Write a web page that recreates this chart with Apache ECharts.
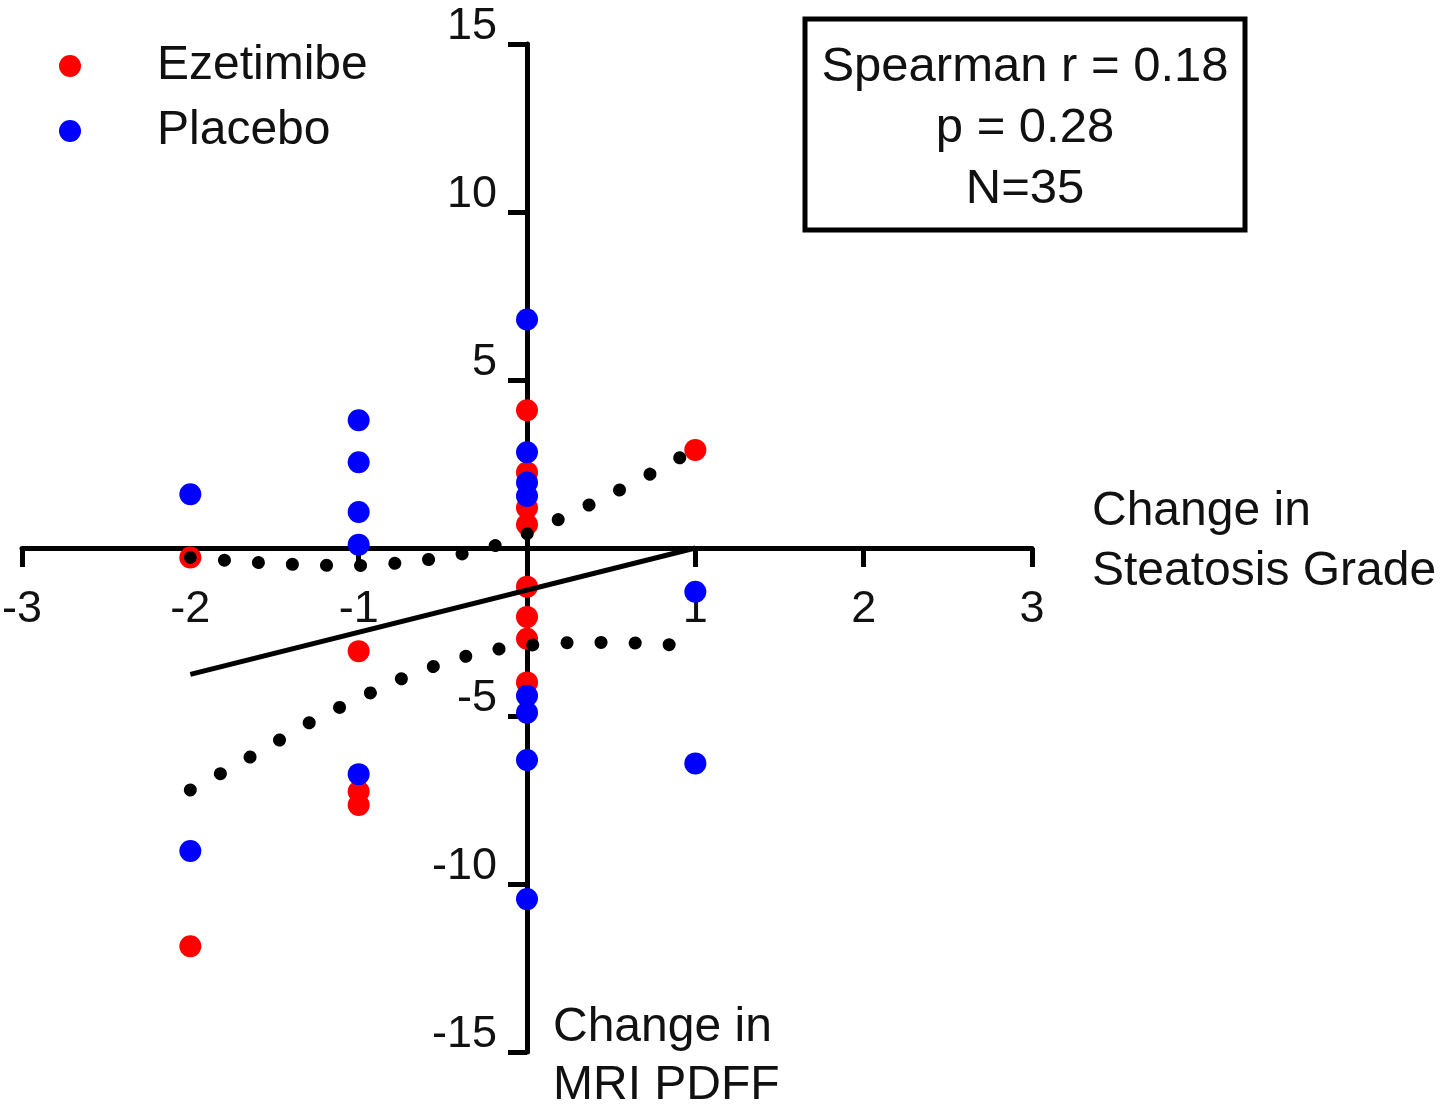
<!DOCTYPE html>
<html>
<head>
<meta charset="utf-8">
<script src="https://cdn.jsdelivr.net/npm/echarts@6/dist/echarts.min.js"></script>
<style>
  html, body { margin: 0; padding: 0; background: #fff; }
  #main { width: 1450px; height: 1109px; }
</style>
</head>
<body>
<div id="main"></div>
<script>
// points: [change in steatosis grade, change in MRI PDFF]
const ezetimibe = [
  [-2, -0.28], [-2, -11.85],
  [-1, -3.07], [-1, -7.25], [-1, -7.65],
  [0, 4.1], [0, 2.25], [0, 1.2], [0, 0.7], [0, -1.15], [0, -2.05], [0, -2.7], [0, -4.0],
  [1, 2.92]
];
const placebo = [
  [-2, 1.6], [-2, -9.02],
  [-1, 3.8], [-1, 2.55], [-1, 1.07], [-1, 0.1], [-1, -6.73],
  [0, 6.8], [0, 2.85], [0, 1.95], [0, 1.55], [0, -4.4], [0, -4.9], [0, -6.31], [0, -10.45],
  [1, -1.3], [1, -6.41]
];

// fitted line and its dotted band
const fitX = [-2, 1];
const fitY = [-3.76, 0.0];
const bandX = [-2, -1.75, -1.5, -1.25, -1, -0.75, -0.5, -0.25, 0, 0.25, 0.5, 0.75, 1];
const bandUpper = [-0.28, -0.38, -0.46, -0.51, -0.52, -0.44, -0.28, -0.02, 0.42, 1.0, 1.6, 2.25, 2.95];
const bandLower = [-7.2, -6.52, -5.8, -5.08, -4.48, -3.9, -3.43, -3.08, -2.9, -2.82, -2.81, -2.85, -2.93];

const xTicks = { min: -3, max: 3, step: 1 };
const yTicks = { min: -15, max: 15, step: 5 };

const statsText = ['Spearman r = 0.18', 'p = 0.28', 'N=35'];

const font = '"Liberation Sans", Arial, sans-serif';
const ink = '#111';

const zip = (xs, ys) => xs.map((x, i) => [x, ys[i]]);
const hideZero = v => (v === 0 ? '' : String(v));

var chart = echarts.init(document.getElementById('main'));

// grid is 1010 x 1008; both axes sit at the middle (value 0), so they are
// pulled in from the grid edges with offset
chart.setOption({
  animation: false,
  backgroundColor: '#fff',
  grid: { left: 22, right: 418, top: 44, bottom: 57, containLabel: false, outerBoundsMode: 'none' },
  legend: {
    data: ['Ezetimibe', 'Placebo'],
    orient: 'vertical',
    left: 59,
    top: 41,
    padding: 0,
    itemWidth: 22,
    itemHeight: 22,
    itemGap: 15,
    selectedMode: false,
    textStyle: { fontFamily: font, fontSize: 48, color: ink, lineHeight: 50, padding: [0, 0, 0, 71] }
  },
  xAxis: {
    type: 'value',
    position: 'bottom',
    offset: -504,
    min: xTicks.min, max: xTicks.max, interval: xTicks.step,
    splitLine: { show: false },
    axisLine: { onZero: false, lineStyle: { color: '#000', width: 5 } },
    axisTick: { show: true, length: 19, lineStyle: { color: '#000', width: 5 } },
    axisLabel: { fontFamily: font, fontSize: 45, color: ink, margin: 39, formatter: hideZero },
    // empty short last line lifts the two text lines a little above the axis
    name: '{t|Change in}\n{t|Steatosis Grade}\n{gap|}',
    nameLocation: 'end',
    nameGap: 60,
    nameMoveOverlap: false,
    nameTextStyle: {
      fontFamily: font, fontSize: 48, color: ink, align: 'left', verticalAlign: 'middle',
      rich: {
        t: { fontFamily: font, fontSize: 48, color: ink, lineHeight: 60 },
        gap: { fontSize: 1, lineHeight: 12 }
      }
    }
  },
  yAxis: {
    type: 'value',
    position: 'left',
    offset: -505,
    min: yTicks.min, max: yTicks.max, interval: yTicks.step,
    splitLine: { show: false },
    axisLine: { onZero: false, lineStyle: { color: '#000', width: 5 } },
    axisTick: { show: true, length: 19, lineStyle: { color: '#000', width: 5 } },
    axisLabel: { fontFamily: font, fontSize: 45, color: ink, margin: 30, verticalAlign: 'bottom', lineHeight: 34, formatter: hideZero },
    name: 'Change in\nMRI PDFF',
    nameLocation: 'start',
    nameGap: -53,
    nameMoveOverlap: false,
    nameTextStyle: { fontFamily: font, fontSize: 48, color: ink, lineHeight: 58, align: 'left', verticalAlign: 'top', padding: [0, 0, 0, 26] }
  },
  graphic: [
    {
      type: 'rect',
      shape: { x: 805, y: 19, width: 440, height: 211 },
      style: { fill: '#fff', stroke: '#000', lineWidth: 5 },
      z: 10
    },
    {
      type: 'text',
      x: 1025, y: 37,
      style: { text: statsText.join('\n'), font: '49px ' + font, fill: ink, align: 'center', verticalAlign: 'top', lineHeight: 61 },
      z: 11
    }
  ],
  series: [
    {
      name: 'Ezetimibe', type: 'scatter', data: ezetimibe,
      symbol: 'circle', symbolSize: 22, itemStyle: { color: '#ff0000', opacity: 1 }, z: 2
    },
    {
      name: 'Placebo', type: 'scatter', data: placebo,
      symbol: 'circle', symbolSize: 22, itemStyle: { color: '#0000ff', opacity: 1 }, z: 2
    },
    {
      name: 'fit', type: 'line', data: zip(fitX, fitY), showSymbol: false, symbol: 'none', silent: true,
      lineStyle: { color: '#000', width: 5 }, z: 3
    },
    {
      name: 'upper', type: 'line', data: zip(bandX, bandUpper), showSymbol: false, symbol: 'none', silent: true,
      smooth: 0.3,
      lineStyle: { color: '#000', width: 13, type: [0.1, 34], cap: 'round' }, z: 3
    },
    {
      name: 'lower', type: 'line', data: zip(bandX, bandLower), showSymbol: false, symbol: 'none', silent: true,
      smooth: 0.3,
      lineStyle: { color: '#000', width: 13, type: [0.1, 34], cap: 'round' }, z: 3
    }
  ]
});
</script>
</body>
</html>
